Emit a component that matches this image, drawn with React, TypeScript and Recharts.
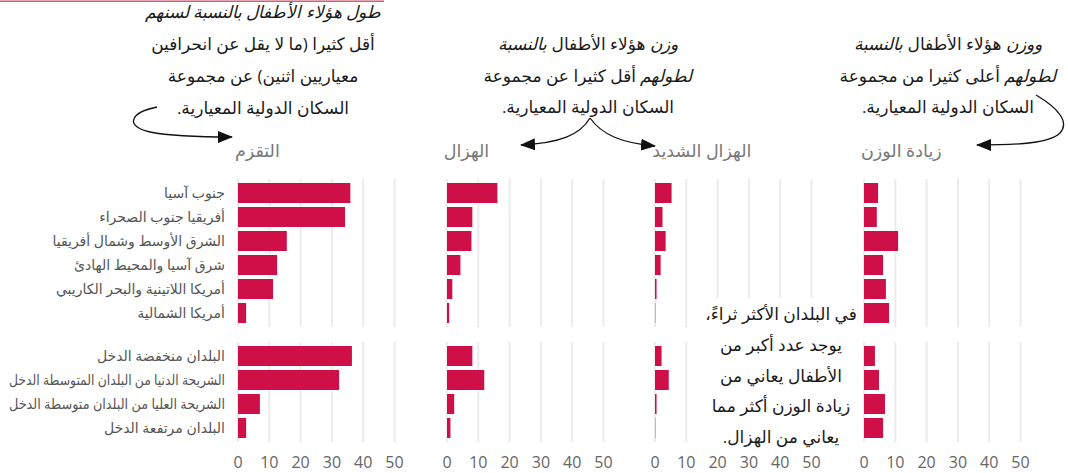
import React from 'react';
import { BarChart, Bar, XAxis, YAxis, CartesianGrid } from 'recharts';

// categories
const regions = [
  'جنوب آسيا',
  'أفريقيا جنوب الصحراء',
  'الشرق الأوسط وشمال أفريقيا',
  'شرق آسيا والمحيط الهادئ',
  'أمريكا اللاتينية والبحر الكاريبي',
  'أمريكا الشمالية',
];
const incomeGroups = [
  'البلدان منخفضة الدخل',
  'الشريحة الدنيا من البلدان المتوسطة الدخل',
  'الشريحة العليا من البلدان متوسطة الدخل',
  'البلدان مرتفعة الدخل',
];
const panelTitles = ['التقزم', 'الهزال', 'الهزال الشديد', 'زيادة الوزن'];

// values (%) per panel, regions then income groups
const stuntingRegions = [35.9, 34.2, 15.6, 12.5, 11.2, 2.6];
const stuntingIncome = [36.4, 32.3, 7.0, 2.6];
const wastingRegions = [16.1, 8.1, 7.8, 4.3, 1.7, 0.7];
const wastingIncome = [8.1, 11.9, 2.3, 1.1];
const severeRegions = [5.3, 2.4, 3.4, 1.8, 0.5, 0.1];
const severeIncome = [2.1, 4.4, 0.5, 0.1];
const overweightRegions = [4.5, 4.1, 10.9, 6.1, 7.0, 8.0];
const overweightIncome = [3.5, 4.8, 6.7, 6.1];

const xTicks = [0, 10, 20, 30, 40, 50];

const BAR_COLOR = '#cf1048';
const GRID_COLOR = '#ebebeb';
const FONT = '"Open Sans", "DejaVu Sans", sans-serif';

const ZERO_X = [238, 446.7, 655.3, 864];
const PLOT_W = 156.5;
const RIGHT_PAD = 14;
const LEFT_PAD = 12;
const LABEL_RIGHT = 225;
const LABEL_MAX_W = 216;

const toRows = (names: string[], values: number[]) =>
  names.map((name, i) => ({ name, value: values[i] }));

const panels = [
  { top: toRows(regions, stuntingRegions), bottom: toRows(incomeGroups, stuntingIncome) },
  { top: toRows(regions, wastingRegions), bottom: toRows(incomeGroups, wastingIncome) },
  { top: toRows(regions, severeRegions), bottom: toRows(incomeGroups, severeIncome) },
  { top: toRows(regions, overweightRegions), bottom: toRows(incomeGroups, overweightIncome) },
];

let measureCtx: CanvasRenderingContext2D | null = null;
function measure(s: string, size: number) {
  if (!measureCtx) measureCtx = document.createElement('canvas').getContext('2d');
  if (!measureCtx) return 0;
  measureCtx.font = `${size}px ${FONT}`;
  return measureCtx.measureText(s).width;
}

// no wrapping for the long Arabic labels, squeeze them if too wide (ref font is narrower)
const LabelTick = (props: any) => {
  const { y, payload } = props;
  const w = measure(payload.value, 14);
  const squeeze = w > LABEL_MAX_W ? { textLength: LABEL_MAX_W, lengthAdjust: 'spacingAndGlyphs' } : {};
  return (
    <text
      x={LABEL_RIGHT}
      y={y}
      dy="0.35em"
      textAnchor="end"
      fill="#555"
      fontSize={14}
      fontFamily={FONT}
      {...(squeeze as any)}
    >
      {payload.value}
    </text>
  );
};

interface PanelProps {
  data: { name: string; value: number }[];
  showLabels: boolean;
  showTicks: boolean;
  left: number;
  top: number;
  plotHeight: number;
}

function PanelChart({ data, showLabels, showTicks, left, top, plotHeight }: PanelProps) {
  const yW = showLabels ? ZERO_X[0] : 0;
  const padL = showLabels ? 0 : LEFT_PAD;
  const axisH = showTicks ? 31 : 0;
  return (
    <div style={{ position: 'absolute', left: left - padL, top }}>
      <BarChart
        width={padL + yW + PLOT_W + RIGHT_PAD}
        height={plotHeight + axisH}
        data={data}
        layout="vertical"
        margin={{ top: 0, right: RIGHT_PAD, bottom: 0, left: padL }}
        barCategoryGap={2}
      >
        <CartesianGrid horizontal={false} stroke={GRID_COLOR} strokeWidth={2} />
        <XAxis
          type="number"
          domain={[0, 50]}
          ticks={xTicks}
          interval={0}
          hide={!showTicks}
          height={axisH}
          axisLine={false}
          tickLine={false}
          tickMargin={9}
          tick={{ fill: '#666', fontSize: 16, fontFamily: FONT }}
        />
        <YAxis
          type="category"
          dataKey="name"
          hide={!showLabels}
          width={yW}
          interval={0}
          axisLine={false}
          tickLine={false}
          padding={{ top: 2, bottom: 2 }}
          tick={<LabelTick />}
        />
        <Bar dataKey="value" fill={BAR_COLOR} isAnimationActive={false} />
      </BarChart>
    </div>
  );
}

const noteStyle: React.CSSProperties = {
  position: 'absolute',
  direction: 'rtl',
  textAlign: 'center',
  whiteSpace: 'nowrap',
  fontSize: 17,
  color: '#1a1a1a',
  fontFamily: FONT,
};

export default function App() {
  return (
    <div
      style={{
        position: 'absolute',
        left: 0,
        top: 0,
        width: 1068,
        height: 473,
        background: '#fff',
        overflow: 'hidden',
        fontFamily: FONT,
      }}
    >
      {/* leftover strip at the very top */}
      <div style={{ position: 'absolute', left: 0, top: -2, width: 384, height: 3, background: '#e8a6b4', borderBottom: '1px solid #c4637a' }} />

      {panels.map((p, i) => (
        <React.Fragment key={i}>
          <PanelChart
            data={p.top}
            showLabels={i === 0}
            showTicks={false}
            left={i === 0 ? 0 : ZERO_X[i]}
            top={179}
            plotHeight={148}
          />
          <PanelChart
            data={p.bottom}
            showLabels={i === 0}
            showTicks={true}
            left={i === 0 ? 0 : ZERO_X[i]}
            top={342}
            plotHeight={100}
          />
          <div
            style={{
              position: 'absolute',
              left: ZERO_X[i] - 3,
              top: 138,
              fontSize: 17.5,
              color: '#777',
              direction: 'rtl',
              whiteSpace: 'nowrap',
              lineHeight: '24px',
            }}
          >
            {panelTitles[i]}
          </div>
        </React.Fragment>
      ))}

      {/* annotations */}
      <div style={{ ...noteStyle, left: 133, width: 260, top: -4, lineHeight: '32px' }}>
        <i>طول هؤلاء الأطفال بالنسبة لسنهم</i>
        <br />
        أقل كثيرا (ما لا يقل عن انحرافين
        <br />
        معياريين اثنين) عن مجموعة
        <br />
        السكان الدولية المعيارية.
      </div>

      <div style={{ ...noteStyle, left: 478, width: 220, top: 28, lineHeight: '31.5px' }}>
        <i>وزن</i> هؤلاء الأطفال <i>بالنسبة</i>
        <br />
        <i>لطولهم</i> أقل كثيرا عن مجموعة
        <br />
        السكان الدولية المعيارية.
      </div>

      <div style={{ ...noteStyle, left: 838, width: 220, top: 28, lineHeight: '31.5px' }}>
        <i>ووزن</i> هؤلاء الأطفال <i>بالنسبة</i>
        <br />
        <i>لطولهم</i> أعلى كثيرا من مجموعة
        <br />
        السكان الدولية المعيارية.
      </div>

      <div
        style={{
          ...noteStyle,
          left: 699,
          width: 164,
          top: 298,
          height: 157,
          paddingTop: 1,
          boxSizing: 'border-box',
          background: '#fff',
          lineHeight: '30.8px',
        }}
      >
        في البلدان الأكثر ثراءً،
        <br />
        يوجد عدد أكبر من
        <br />
        الأطفال يعاني من
        <br />
        زيادة الوزن أكثر مما
        <br />
        يعاني من الهزال.
      </div>

      <svg width={1068} height={473} style={{ position: 'absolute', left: 0, top: 0, pointerEvents: 'none' }}>
        <defs>
          <marker id="ah" markerUnits="userSpaceOnUse" markerWidth={16} markerHeight={12} refX={14} refY={6} orient="auto">
            <path d="M0,0 L15,6 L0,12 Z" fill="#111" />
          </marker>
        </defs>
        <g fill="none" stroke="#111" strokeWidth={1.3}>
          <path d="M157,107 C128,113 126,127 150,132 C170,136 195,137 232,137" markerEnd="url(#ah)" />
          <path d="M590,118 C580,135 560,143 521,145" markerEnd="url(#ah)" />
          <path d="M590,118 C602,135 622,143 655,146" markerEnd="url(#ah)" />
          <path d="M1036,95 C1058,108 1070,122 1060,133 C1050,143 1020,145 977,145" markerEnd="url(#ah)" />
        </g>
      </svg>
    </div>
  );
}
